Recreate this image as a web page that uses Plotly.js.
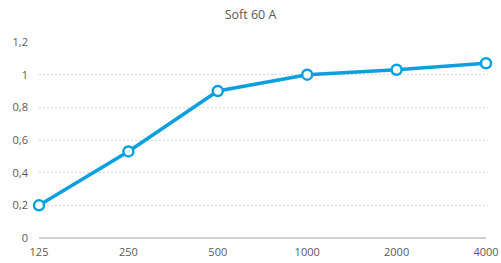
<!DOCTYPE html>
<html><head><meta charset="utf-8">
<script src="https://cdn.plot.ly/plotly-3.0.1.min.js"></script>
<style>html,body{margin:0;padding:0;background:#fff}#c{width:501px;height:263px}</style>
</head><body><div id="c"></div>
<script>
const categories = ["125","250","500","1000","2000","4000"];
const values = [0.2, 0.53, 0.9, 1.0, 1.03, 1.07];
const yTicks = [0, 0.2, 0.4, 0.6, 0.8, 1, 1.2];
const yTickText = ["0","0,2","0,4","0,6","0,8","1","1,2"];

const trace = {
  x: categories, y: values, type: "scatter", mode: "lines+markers",
  line: {color: "#0AA0E0", width: 3.5},
  marker: {symbol: "circle", size: 10, color: "#ffffff", line: {color: "#0AA0E0", width: 2.5}},
  cliponaxis: false, hoverinfo: "none"
};
const font = {family: "Open Sans, Liberation Sans, sans-serif", size: 11, color: "#595959"};
const layout = {
  width: 501, height: 263,
  margin: {l: 39, r: 15, t: 42, b: 25},
  paper_bgcolor: "#fff", plot_bgcolor: "#fff",
  showlegend: false,
  font: font,
  title: {text: "Soft 60 A", x: 0.5, xanchor: "center", y: 0.945, yanchor: "middle",
          font: {family: "Open Sans, Liberation Sans, sans-serif", size: 12.5, color: "#595959"}},
  xaxis: {type: "category", range: [0, 5], showgrid: false, zeroline: false,
          showline: false, ticks: "", tickfont: font, ticklabelstandoff: 6, fixedrange: true},
  yaxis: {range: [0, 1.2], tickvals: yTicks, ticktext: yTickText, showgrid: true,
          gridcolor: "#d9d9d9", griddash: "2px,2px", gridwidth: 1,
          zeroline: true, zerolinecolor: "#d0d0d0", zerolinewidth: 1.3,
          showline: false, ticks: "", tickfont: font, ticklabelstandoff: 10, fixedrange: true}
};
Plotly.newPlot("c", [trace], layout, {displayModeBar: false, staticPlot: true});
</script></body></html>
